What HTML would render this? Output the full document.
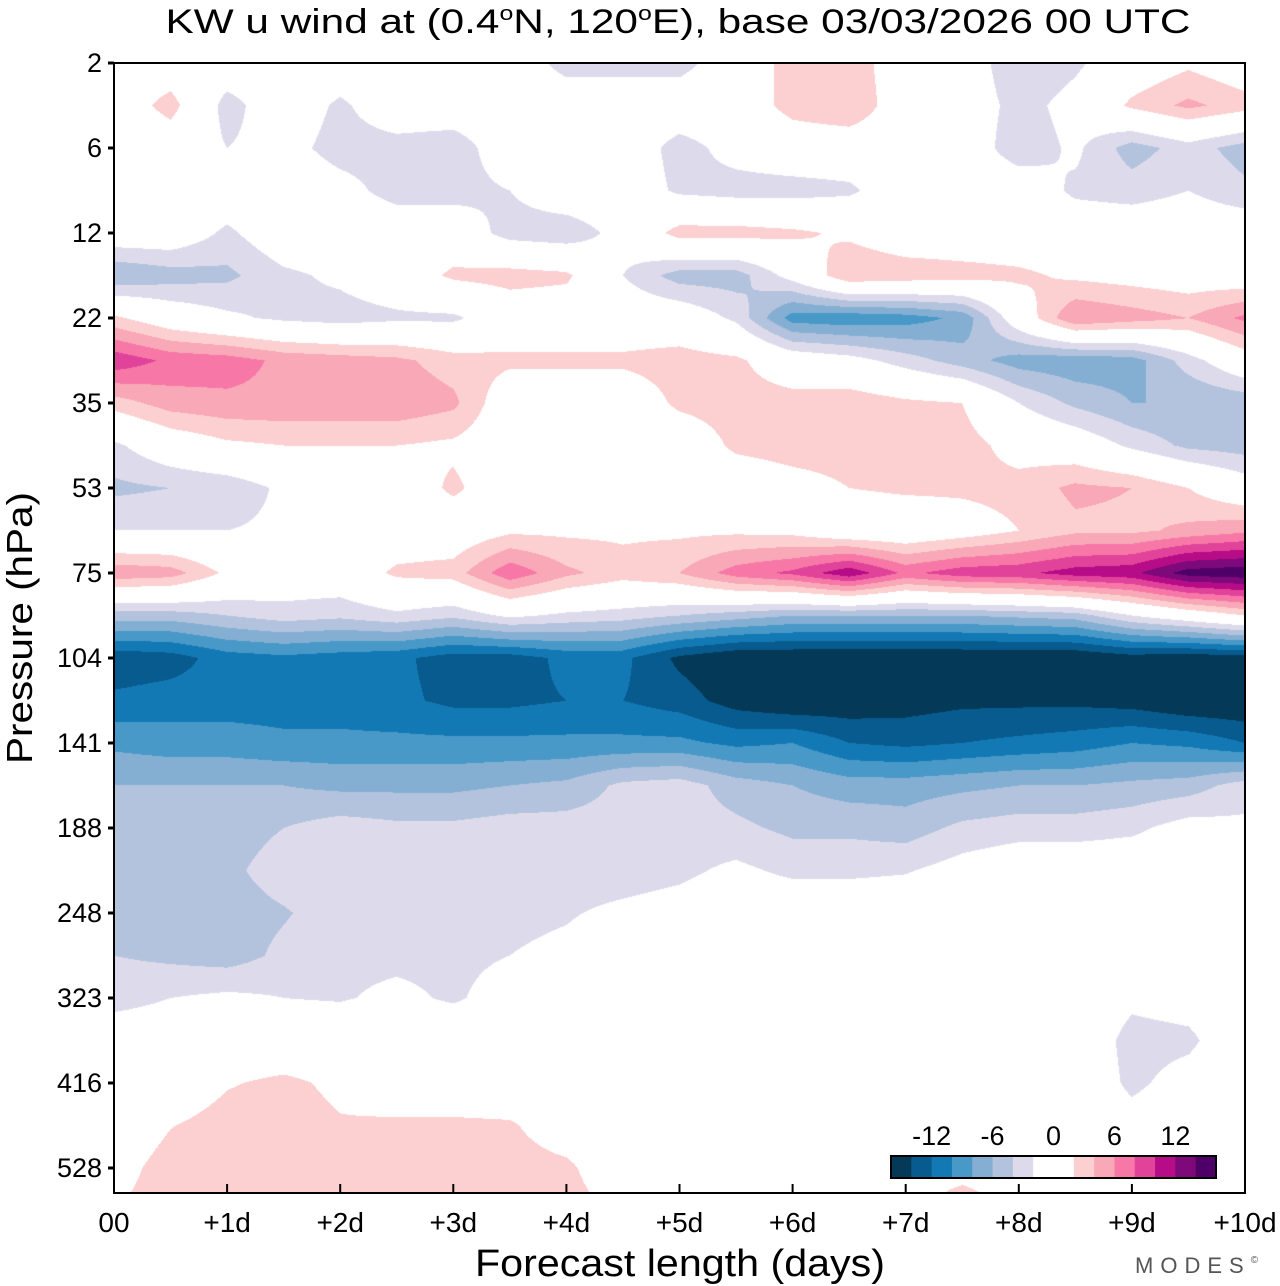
<!DOCTYPE html>
<html><head><meta charset="utf-8"><style>
html,body{margin:0;padding:0;background:#fff;}
#wrap{position:relative;width:1280px;height:1286px;overflow:hidden;font-family:"Liberation Sans",sans-serif;}
canvas{position:absolute;left:114px;top:63px;}
svg{position:absolute;left:0;top:0;}
</style></head><body>
<div id="wrap">
<canvas id="field" width="1131" height="1130"></canvas>
<svg id="ov" width="1280" height="1286">
<text x="678" y="33" font-size="34" text-anchor="middle" textLength="1025" lengthAdjust="spacingAndGlyphs">KW u wind at (0.4<tspan font-size="20" dy="-13">o</tspan><tspan dy="13">N, 120</tspan><tspan font-size="20" dy="-13">o</tspan><tspan dy="13">E),  base 03/03/2026  00 UTC</tspan></text>
<text transform="translate(32,628) rotate(-90)" font-size="36" text-anchor="middle" textLength="272" lengthAdjust="spacingAndGlyphs">Pressure (hPa)</text>
<text x="680" y="1276" font-size="38" text-anchor="middle" textLength="410" lengthAdjust="spacingAndGlyphs">Forecast length (days)</text>
<text x="1135" y="1273" font-size="22" fill="#555" letter-spacing="7">MODES<tspan font-size="10" dy="-10">©</tspan></text>
<g id="axes"></g>
<rect x="114" y="63" width="1131" height="1130" fill="none" stroke="#000" stroke-width="2"/>
<g id="cbar"></g>
</svg>
</div>
<script>
const days=[0,0.5,1,1.5,2,2.5,3,3.5,4,4.5,5,5.5,6,6.5,7,7.5,8,8.5,9,9.5,10];
const xTickLabels=["00","+1d","+2d","+3d","+4d","+5d","+6d","+7d","+8d","+9d","+10d"];
const yTickLabels=["2","6","12","22","35","53","75","104","141","188","248","323","416","528"];
const cbarLabels=["-12","-6","0","6","12"];
const cbarLabelValues=[-12,-6,0,6,12];
const levels=[-14,-12,-10,-8,-6,-4,-2,2,4,6,8,10,12,14];
const colors=["#043a58","#085b8e","#1379b5","#4899c7","#84afd3","#b3c3de","#dddbeb","#ffffff","#fcd0d0","#f9a8b8","#f778a7","#e2439a","#b70c87","#7e097a","#4e0068"];
// rows: half-tick pressure levels from 2 hPa downward
const r0=[0,0,0,0,0,0,0,0,-3,-3,-3,0,3,3.5,0,0,-4,-2.5,0,1.5,0];
const r1=[0,3,-3,0,-2.5,0,0,0,0,0,0,0,3,4,0,0,-3,-1,2.5,4.5,3];
const r2=[-1,0,-2,-1,-3,-3,-3.5,0,0,0,-3,-1,0,0,0,0,-3.5,-1.5,-5,-3,-5];
const r3=[0,0,0,0,-1,-3,-3,-2,0,0,-2.5,-3,-3,-2.5,0,0,0,-2.5,-3,-2,-3.5];
const r4=[0,0,-2.5,0,0,0,0,-3,-3.5,-1,3,3,2.5,1.5,0,0,0,0,0,0,0];
const r5=[-6,-5,-4.5,-2.5,-1.5,0,2.5,3,2.5,-2,-5,-5,-1,4,3.5,3,2.5,1.5,1,0.5,0];
const r6=[2.5,0,-1.5,-2.5,-3,-2.5,-2.5,0,0,0,0,-2.5,-9,-9.5,-9,-7.5,0,6,5,4,6.5];
const r7=[9.5,7.5,7,5.5,5,4.5,3,2.5,2.5,2.5,3,2.5,0,-1,-3,-5,-7,-7.5,-7,-3,0.5];
const r8=[3,5,5.5,5.5,5.5,5.5,4.5,0,0,0,2.5,3,3,3.5,2.5,2,-2,-4.5,-6,-6,-5.5];
const r9=[-2.5,0,1.5,2,2,2,1.5,0,0,0,0,2.5,3,3,3,3,1,0,-2.5,-4.5,-5];
const r10=[-4.5,-4,-3.5,-1.5,0,0,2.5,0,0,0,0,0,1,2,2.5,2.5,2.8,4.5,4,2,-0.5];
const r11=[-2,-2,-2,-1.5,0,0,0,1.5,1.5,1.5,1.5,1.5,1.2,-0.5,-0.5,0.5,2,3.5,3.5,4.5,5.5];
const r12=[5.5,5,1.5,0,0,2.5,3,7.5,4.5,3,4,7,8.5,11.5,7.5,9.2,9.5,11,11.5,15,15.5];
const r13=[-5,-5,-4,-3,-3.5,-2.5,-3.5,-1.5,-2.5,-3,-4,-5,-6,-6,-6,-6,-5.5,-5,-2,0,2];
const r14=[-13.5,-13,-11,-10.5,-11,-11.5,-13,-13,-11.5,-11.5,-14.5,-16,-16,-16,-16,-16,-16,-16,-15,-15.5,-15];
const r15=[-11.5,-11,-11,-11,-11,-11.5,-12.5,-12.5,-12,-12,-13,-15,-16,-15.5,-15,-14.5,-14.5,-14.5,-15,-16,-16];
const r16=[-8.5,-9,-9,-9.5,-9.5,-9.5,-9.5,-9.5,-9.5,-9.5,-9.5,-10.5,-10,-12,-12.5,-12,-11.5,-11,-10,-10.5,-12];
const r17=[-6,-6,-6,-6,-6.5,-6.5,-6.5,-6,-5.5,-3.5,-3,-5,-6,-7,-7,-6.5,-6,-6,-5.5,-5,-3];
const r18=[-5,-5,-5,-4,-3,-3.5,-3.5,-3,-3,-3,-3,-3.5,-4.5,-4.5,-5,-3.5,-3,-3,-2.5,-1,-1.5];
const r19=[-5,-5,-4.5,-3,-3,-3,-3,-3,-3,-3,-2.5,-1.5,-2.5,-2.5,-2.2,-1,0,0,0,0,0];
const r20=[-5,-5,-5,-4.2,-3,-3,-3,-2.5,-2.2,-1.5,-1,0,0,0,0,0,0,0,0,0,0];
const r21=[-4,-4.5,-5,-3.5,-2.5,-2.5,-2.5,-2,-1.5,-0.5,0,0,0,0,0,0,0,0,0,0,0];
const r22=[-2.5,-2,-1.5,-2,-2.2,-1.5,-2.3,-1,0,0,0,0,0,0,0,0,0,0,-1.5,-1,0];
const r23=[-1,-1,0,0,0,0,0,0,0,0,0,0,0,0,0,0,0,0,-2.8,-2.5,0];
const r24=[0,0,1.8,2.5,1.5,0,0,0,0,0,0,0,0,0,0,0,0,0,-2.5,-1,0];
const r25=[0,1.9,3,3,2.2,2.5,2.5,2.3,0.5,0,0,0,0,0,0,0,0,0,-1,0,0];
const r26=[1,3,3,3,3,3,3,3,2.5,0,0,0,0,0,0,0,0,0,0,0,0];
const r27=[2,3,3,3,3,3,3,3,3,1.5,0,0,0,0,0,5,0,0,0,0,0];
const grid=[r0,r1,r2,r3,r4,r5,r6,r7,r8,r9,r10,r11,r12,r13,r14,r15,r16,r17,r18,r19,r20,r21,r22,r23,r24,r25,r26,r27];

const X0=114,X1=1245,Y0=63,Y1=1193,TICK=85;
function xScale(d){return X0+(X1-X0)*d/10;}
function yScale(levelIndex){return Y0+levelIndex*TICK;}
function hex(c){return [parseInt(c.slice(1,3),16),parseInt(c.slice(3,5),16),parseInt(c.slice(5,7),16)];}
const rgb=colors.map(hex);
function bin(v){let i=0;while(i<levels.length&&v>=levels[i])i++;return i;}

(function draw(){
  const cv=document.getElementById('field');const ctx=cv.getContext('2d');
  const W=cv.width,H=cv.height;const img=ctx.createImageData(W,H);const D=img.data;
  const nc=days.length,nr=grid.length;
  for(let py=0;py<H;py++){
    const y=Y0+py+0.5;let rf=(y-yScale(0))/(TICK/2);if(rf<0)rf=0;if(rf>nr-1)rf=nr-1;
    const ri=Math.min(Math.floor(rf),nr-2),rt=rf-ri;const A=grid[ri],B=grid[ri+1];
    for(let px=0;px<W;px++){
      const x=X0+px+0.5;let cf=(x-xScale(0))/(xScale(days[1])-xScale(0));if(cf<0)cf=0;if(cf>nc-1)cf=nc-1;
      const ci=Math.min(Math.floor(cf),nc-2),ct=cf-ci;
      const v=(A[ci]*(1-ct)+A[ci+1]*ct)*(1-rt)+(B[ci]*(1-ct)+B[ci+1]*ct)*rt;
      const c=rgb[bin(v)];const k=(py*W+px)*4;D[k]=c[0];D[k+1]=c[1];D[k+2]=c[2];D[k+3]=255;
    }
  }
  ctx.putImageData(img,0,0);
})();

const NS='http://www.w3.org/2000/svg';
function mk(tag,attrs,parent){const e=document.createElementNS(NS,tag);for(const k in attrs)e.setAttribute(k,attrs[k]);parent.appendChild(e);return e;}
const axes=document.getElementById('axes');
yTickLabels.forEach((lab,i)=>{
  const y=yScale(i);
  const t=mk('line',{x1:X0-6,x2:X0,y1:y,y2:y,stroke:'#000','stroke-width':3},axes);
  
  
  const tx=mk('text',{x:102,y:y+9,'font-size':27,'text-anchor':'end'},axes);
  
  
  tx.textContent=lab;
});
xTickLabels.forEach((lab,i)=>{
  const x=xScale(i);
  const t=mk('line',{x1:x,x2:x,y1:Y1-9,y2:Y1,stroke:'#000','stroke-width':2},axes);
  
  
  const tx=mk('text',{x:x,y:1232,'font-size':28,'text-anchor':'middle'},axes);
  
  
  tx.textContent=lab;
});
const cb=document.getElementById('cbar');
const CBX=891,CBW=325,CBY=1156,CBH=22,vmin=-16,vmax=16;
function cbScale(v){return CBX+CBW*(v-vmin)/(vmax-vmin);}
const boxEdges=[];for(let v=vmin;v<=vmax;v+=2)boxEdges.push(v);
for(let i=0;i<boxEdges.length-1;i++){
  const v=(boxEdges[i]+boxEdges[i+1])/2;
  const r=mk('rect',{x:cbScale(boxEdges[i]),y:CBY,width:cbScale(boxEdges[i+1])-cbScale(boxEdges[i])+0.5,height:CBH,fill:colors[bin(v)]},cb);
  
  
}
const fr=mk('rect',{x:CBX,y:CBY,width:CBW,height:CBH,fill:'none',stroke:'#000','stroke-width':2},cb);


cbarLabels.forEach((lab,i)=>{
  const tx=mk('text',{x:cbScale(cbarLabelValues[i]),y:1145,'font-size':27,'text-anchor':'middle'},cb);
  
  
  tx.textContent=lab;
});
</script>
</body></html>
